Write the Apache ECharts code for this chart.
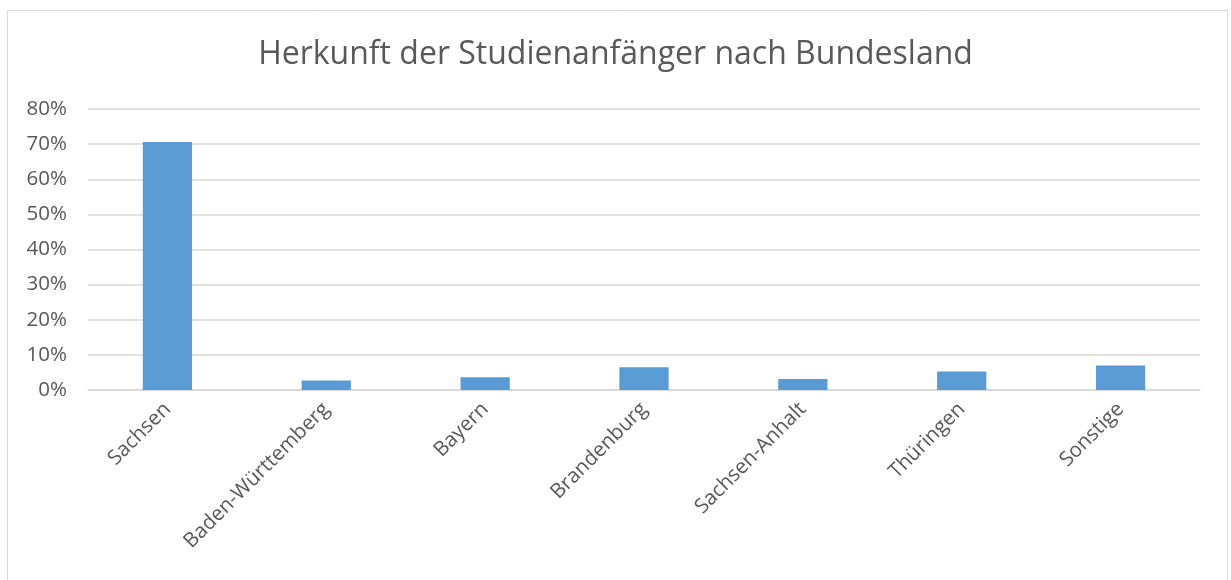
<!DOCTYPE html>
<html>
	<head>
		<meta charset="utf-8">
		<title>Herkunft der Studienanfänger</title>
		<script src="https://cdn.jsdelivr.net/npm/echarts@6/dist/echarts.min.js"></script>
		<style>
			html, body { margin: 0; padding: 0; background: #fff; }
			#chart { width: 1231px; height: 580px; }
		</style>
	</head>
	<body>
		<div id="chart"></div>
		<script>
			// Daten
			var laender = ['Sachsen', 'Baden-Württemberg', 'Bayern', 'Brandenburg', 'Sachsen-Anhalt', 'Thüringen', 'Sonstige'];
			var anteile = [0.706, 0.027, 0.036, 0.065, 0.031, 0.053, 0.070];
			var yMax = 0.8;
			var yStep = 0.1;

			var chart = echarts.init(document.getElementById('chart'));
			var font = '"Open Sans", sans-serif';

			var option = {
				animation: false,
				backgroundColor: '#fff',
				textStyle: { fontFamily: font },
				graphic: [{
					type: 'rect',
					shape: { x: 7.5, y: 10.5, width: 1220, height: 600 },
					style: { fill: 'none', stroke: '#d9d9d9', lineWidth: 1 },
					silent: true
				}],
				title: {
					text: 'Herkunft der Studienanfänger nach Bundesland',
					left: 'center',
					top: 34,
					textStyle: { fontFamily: font, fontSize: 32, fontWeight: 'normal', color: '#595959' }
				},
				grid: { left: 88, right: 31, top: 109, bottom: 190, containLabel: false },
				xAxis: {
					type: 'category',
					data: laender,
					axisTick: { show: false },
					axisLine: { lineStyle: { color: '#d9d9d9', width: 1.5 } },
					axisLabel: { rotate: 45, color: '#595959', fontSize: 20.5, fontFamily: font, margin: 16, interval: 0 }
				},
				yAxis: {
					type: 'value',
					min: 0,
					max: yMax,
					interval: yStep,
					axisLine: { show: false },
					axisTick: { show: false },
					splitLine: { lineStyle: { color: '#d9d9d9', width: 1.5 } },
					axisLabel: {
						color: '#595959', fontSize: 20.5, fontFamily: font, margin: 21,
						formatter: function(v) { return Math.round(v * 100) + '%'; }
					}
				},
				series: [{
					type: 'bar',
					data: anteile,
					barWidth: '31%',
					itemStyle: { color: '#5b9bd5' }
				}]
			};
			chart.setOption(option);
		</script>
	</body>
</html>
